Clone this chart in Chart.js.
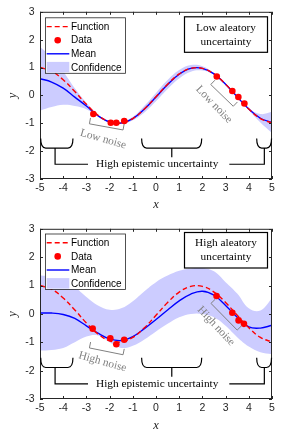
<!DOCTYPE html>
<html>
<head>
<meta charset="utf-8">
<script src="https://cdn.jsdelivr.net/npm/chart.js@4.4.1/dist/chart.umd.min.js"></script>
<style>
  html, body { margin: 0; padding: 0; background: #fff; }
  body { width: 300px; height: 435px; position: relative; overflow: hidden; }
  canvas { position: absolute; left: 0; }
  #chart-low { top: 0; }
  #chart-high { top: 217px; }
</style>
</head>
<body>
<canvas id="chart-low" width="300" height="217"></canvas>
<canvas id="chart-high" width="300" height="218"></canvas>
<script>
// sample grid shared by every curve
const xs = [-5, -4.5, -4, -3.5, -3, -2.5, -2, -1.5, -1, -0.5, 0, 0.5, 1, 1.5, 2, 2.5, 3, 3.5, 4, 4.5, 5];

// true function (same in both panels)
const trueFn = [1.00, 0.87, 0.56, 0.14, -0.32, -0.71, -0.95, -0.99, -0.83, -0.49, -0.05, 0.40, 0.77, 0.97, 0.97, 0.77, 0.40, -0.05, -0.49, -0.83, -0.99];

// low aleatory panel
const lowMean = [0.60, 0.48, 0.26, -0.06, -0.38, -0.73, -0.95, -0.99, -0.83, -0.49, -0.06, 0.39, 0.76, 0.97, 0.97, 0.77, 0.40, -0.05, -0.49, -0.82, -0.97];
const lowUpper = [1.75, 1.38, 0.86, 0.26, -0.26, -0.69, -0.92, -0.96, -0.77, -0.37, 0.09, 0.55, 0.91, 1.09, 1.05, 0.80, 0.43, -0.03, -0.45, -0.67, -0.59];
const lowLower = [-0.55, -0.42, -0.34, -0.38, -0.50, -0.77, -0.98, -1.02, -0.89, -0.61, -0.21, 0.23, 0.61, 0.85, 0.89, 0.74, 0.37, -0.07, -0.53, -0.97, -1.35];
const lowDataX = [-2.70, -1.95, -1.71, -1.37, 2.62, 3.29, 3.55, 3.81];
const lowDataY = [-0.67, -0.98, -0.98, -0.92, 0.68, 0.16, -0.06, -0.29];

// high aleatory panel
const highMean = [0.03, 0.03, -0.02, -0.16, -0.42, -0.68, -0.88, -0.94, -0.80, -0.52, -0.20, 0.14, 0.46, 0.70, 0.80, 0.66, 0.30, -0.12, -0.46, -0.50, -0.40];
const highUpper = [1.35, 1.33, 1.20, 0.95, 0.60, 0.30, 0.15, 0.20, 0.45, 0.80, 1.12, 1.35, 1.52, 1.60, 1.62, 1.50, 1.12, 0.72, 0.20, 0.12, 0.55];
const highLower = [-1.29, -1.27, -1.20, -1.00, -0.80, -0.76, -1.00, -1.20, -1.12, -0.90, -0.62, -0.35, -0.12, 0.00, 0.00, -0.12, -0.42, -0.82, -1.15, -1.35, -1.42];
const highDataX = [-2.73, -1.97, -1.71, -1.37, 2.61, 3.29, 3.56, 3.79];
const highDataY = [-0.52, -0.86, -1.07, -0.91, 0.63, 0.04, -0.23, -0.35];

const xTicks = [-5, -4, -3, -2, -1, 0, 1, 2, 3, 4, 5];
const yTicks = [-3, -2, -1, 0, 1, 2, 3];

const sans = "'Liberation Sans', Arial, sans-serif";
const serif = "'Liberation Serif', 'Times New Roman', serif";
const bandColor = "#ccccff";

const pts = (xv, yv) => xv.map((x, i) => ({ x, y: yv[i] }));

// box + inward ticks, MATLAB style
const frame = {
  id: "frame",
  afterDatasetsDraw(chart) {
    const { ctx, chartArea: a, scales: { x, y } } = chart;
    ctx.save();
    ctx.strokeStyle = "#262626";
    ctx.lineWidth = 1;
    ctx.beginPath();
    x.ticks.forEach((t) => {
      const px = Math.round(x.getPixelForValue(t.value)) + 0.5;
      ctx.moveTo(px, a.bottom); ctx.lineTo(px, a.bottom - 3);
      ctx.moveTo(px, a.top); ctx.lineTo(px, a.top + 3);
    });
    y.ticks.forEach((t) => {
      const py = Math.round(y.getPixelForValue(t.value)) + 0.5;
      ctx.moveTo(a.left, py); ctx.lineTo(a.left + 3, py);
      ctx.moveTo(a.right, py); ctx.lineTo(a.right - 3, py);
    });
    ctx.stroke();
    ctx.strokeRect(a.left + 0.5, a.top + 0.5, a.right - a.left - 1, a.bottom - a.top - 1);
    ctx.restore();
  },
};

// legend, label box and the hand drawn annotations
function notes(cfg) {
  return {
    id: "notes",
    afterDraw(chart) {
      const { ctx, chartArea: a, scales: { x, y } } = chart;
      const X = (v) => x.getPixelForValue(v);
      const Y = (v) => y.getPixelForValue(v);
      ctx.save();

      // epistemic braces
      ctx.strokeStyle = "#000";
      ctx.lineWidth = 1.2;
      const bTop = Y(-1.55), bBot = Y(-1.89), tY = Y(-2.47), r = 5;
      [[-4.97, -3.58], [-0.62, 1.97], [4.34, 4.98]].forEach(([u, v]) => {
        const x0 = X(u), x1 = X(v);
        ctx.beginPath();
        ctx.moveTo(x0, bTop);
        ctx.quadraticCurveTo(x0, bBot, x0 + r, bBot);
        ctx.lineTo(x1 - r, bBot);
        ctx.quadraticCurveTo(x1, bBot, x1, bTop);
        ctx.stroke();
      });
      ctx.beginPath();
      ctx.moveTo(X(-4.35), bBot); ctx.lineTo(X(-4.35), tY); ctx.lineTo(X(-2.93), tY);
      ctx.moveTo(X(0.68), bBot); ctx.lineTo(X(0.68), Y(-2.22));
      ctx.moveTo(X(4.67), bBot); ctx.lineTo(X(4.67), tY); ctx.lineTo(X(3.16), tY);
      ctx.stroke();
      ctx.fillStyle = "#000";
      ctx.font = "11.3px " + serif;
      ctx.textAlign = "center";
      ctx.textBaseline = "middle";
      ctx.fillText("High epistemic uncertainty", X(0.05), tY);

      // noise brackets
      ctx.strokeStyle = "#808080";
      ctx.fillStyle = "#808080";
      ctx.lineWidth = 1;
      cfg.noise.forEach((n) => {
        const p0 = [X(n.from[0]), Y(n.from[1])];
        const p1 = [X(n.to[0]), Y(n.to[1])];
        const dx = p1[0] - p0[0], dy = p1[1] - p0[1], len = Math.hypot(dx, dy);
        const hx = (dy / len) * 6, hy = (-dx / len) * 6;
        ctx.beginPath();
        ctx.moveTo(p0[0] + hx, p0[1] + hy);
        ctx.lineTo(p0[0], p0[1]);
        ctx.lineTo(p1[0], p1[1]);
        ctx.lineTo(p1[0] + hx, p1[1] + hy);
        ctx.stroke();
        ctx.save();
        ctx.translate(X(n.at[0]), Y(n.at[1]));
        ctx.rotate((n.angle * Math.PI) / 180);
        ctx.fillText(cfg.noiseText, 0, 0);
        ctx.restore();
      });

      // label box top right
      const bx = a.left + 144.5, by = a.top + cfg.boxTop, bw = 83, bh = 35.5;
      ctx.fillStyle = "#fff";
      ctx.fillRect(bx, by, bw, bh);
      ctx.strokeStyle = "#000";
      ctx.lineWidth = 1.2;
      ctx.strokeRect(bx, by, bw, bh);
      ctx.fillStyle = "#000";
      ctx.fillText(cfg.box[0], bx + bw / 2, by + 11);
      ctx.fillText(cfg.box[1], bx + bw / 2, by + 25);

      // legend top left
      const lx = a.left + 5, ly = a.top + cfg.legendTop, lw = 80, lh = 55.5;
      ctx.fillStyle = "#fff";
      ctx.fillRect(lx, ly, lw, lh);
      ctx.strokeStyle = "#262626";
      ctx.lineWidth = 0.8;
      ctx.strokeRect(lx + 0.5, ly + 0.5, lw, lh);
      const rows = ["Function", "Data", "Mean", "Confidence"].map((label, i) => ({ label, y: ly + 9.3 + i * 13.6 }));
      const sx0 = lx + 1.7, sx1 = lx + 24.3;
      ctx.lineWidth = 1.4;
      // Function
      ctx.strokeStyle = "#ff0000";
      ctx.setLineDash([5, 3]);
      ctx.beginPath(); ctx.moveTo(sx0, rows[0].y); ctx.lineTo(sx1, rows[0].y); ctx.stroke();
      ctx.setLineDash([]);
      // Data
      ctx.fillStyle = "#ff0000";
      ctx.beginPath(); ctx.arc(lx + 12.7, rows[1].y, 3.3, 0, Math.PI * 2); ctx.fill();
      // Mean
      ctx.strokeStyle = "#0000ff";
      ctx.beginPath(); ctx.moveTo(sx0, rows[2].y); ctx.lineTo(sx1, rows[2].y); ctx.stroke();
      // Confidence
      ctx.fillStyle = bandColor;
      ctx.fillRect(sx0, rows[3].y - 5.5, sx1 - sx0, 10.5);
      ctx.fillStyle = "#000";
      ctx.font = "10px " + sans;
      ctx.textAlign = "left";
      rows.forEach((row) => ctx.fillText(row.label, lx + 26, row.y + 0.5));

      ctx.restore();
    },
  };
}

function makeChart(id, s) {
  const ctx = document.getElementById(id).getContext("2d");
  return new Chart(ctx, {
    type: "line",
    data: {
      datasets: [
        {
          label: "Data",
          data: pts(s.dataX, s.dataY),
          showLine: false,
          pointRadius: 3.3,
          pointBorderWidth: 0,
          pointBackgroundColor: "#ff0000",
          order: 0,
        },
        {
          label: "Function",
          data: pts(xs, trueFn),
          borderColor: "#ff0000",
          borderDash: [5, 3],
          borderWidth: 1.4,
          pointRadius: 0,
          tension: 0.4,
          order: 1,
        },
        {
          label: "Mean",
          data: pts(xs, s.mean),
          borderColor: "#0000ff",
          borderWidth: 1.4,
          pointRadius: 0,
          tension: 0.4,
          order: 2,
        },
        {
          label: "Confidence",
          data: pts(xs, s.upper),
          borderWidth: 0,
          pointRadius: 0,
          tension: 0.4,
          backgroundColor: bandColor,
          fill: "+1",
          order: 3,
        },
        {
          label: "lower",
          data: pts(xs, s.lower),
          borderWidth: 0,
          pointRadius: 0,
          tension: 0.4,
          fill: false,
          order: 4,
        },
      ],
    },
    options: {
      responsive: false,
      animation: false,
      layout: { padding: { top: s.padTop, right: 28, left: 0, bottom: 0 } },
      plugins: { legend: { display: false }, tooltip: { enabled: false } },
      scales: {
        x: {
          type: "linear",
          min: -5,
          max: 5,
          afterBuildTicks: (sc) => { sc.ticks = xTicks.map((value) => ({ value })); },
          afterFit: (sc) => { sc.height = s.xHeight; },
          ticks: { color: "#262626", font: { family: sans, size: 10.5 }, padding: 3, maxRotation: 0, autoSkip: false },
          grid: { display: false, drawTicks: false },
          border: { display: false },
          title: { display: true, text: "x", color: "#262626", font: { family: serif, size: 12.5, style: "italic" }, padding: { top: 0, bottom: s.titlePad } },
        },
        y: {
          min: -3,
          max: 3,
          afterBuildTicks: (sc) => { sc.ticks = yTicks.map((value) => ({ value })); },
          afterFit: (sc) => { sc.width = 40; },
          ticks: { color: "#262626", font: { family: sans, size: 10.5 }, padding: 5.5 },
          grid: { display: false, drawTicks: false },
          border: { display: false },
          title: { display: true, text: "y", color: "#262626", font: { family: serif, size: 12.5, style: "italic" }, padding: { top: 5.5, bottom: 0 } },
        },
      },
    },
    plugins: [frame, notes(s.notes)],
  });
}

makeChart("chart-low", {
  mean: lowMean, upper: lowUpper, lower: lowLower, dataX: lowDataX, dataY: lowDataY,
  padTop: 5, xHeight: 38, titlePad: 4.5,
  notes: {
    box: ["Low aleatory", "uncertainty"], boxTop: 5, legendTop: 5.5,
    noiseText: "Low noise",
    noise: [
      { from: [-2.87, -1.02], to: [-1.42, -1.24], at: [-2.28, -1.57], angle: 16 },
      { from: [2.36, 0.39], to: [3.33, -0.39], at: [2.5, -0.33], angle: 46 },
    ],
  },
});

makeChart("chart-high", {
  mean: highMean, upper: highUpper, lower: highLower, dataX: highDataX, dataY: highDataY,
  padTop: 11, xHeight: 36, titlePad: 1.5,
  notes: {
    box: ["High aleatory", "uncertainty"], boxTop: 3.7, legendTop: 4.7,
    noiseText: "High noise",
    noise: [
      { from: [-2.87, -1.20], to: [-1.42, -1.44], at: [-2.31, -1.69], angle: 16 },
      { from: [2.37, 0.37], to: [3.50, -0.57], at: [2.59, -0.43], angle: 47 },
    ],
  },
});
</script>
</body>
</html>
